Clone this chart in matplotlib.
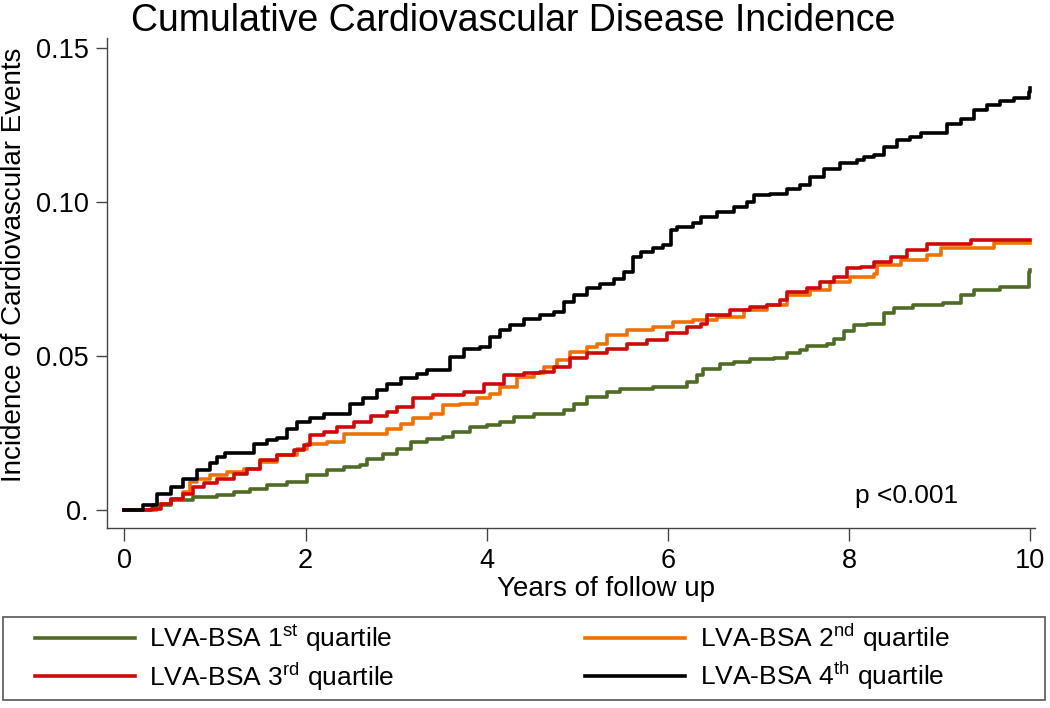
import numpy as np
import matplotlib.pyplot as plt
from matplotlib.patches import Rectangle

plt.rcParams['font.family'] = ['Liberation Sans', 'DejaVu Sans']
plt.rcParams['mathtext.fontset'] = 'custom'
plt.rcParams['mathtext.rm'] = 'Liberation Sans'

# step points (years, cumulative incidence)
q1_years = [0.0, 0.32, 0.51, 0.76, 1.02, 1.21, 1.39, 1.57, 1.80, 2.02, 2.24, 2.42, 2.60, 2.68, 2.86, 3.01,
            3.16, 3.34, 3.52, 3.63, 3.82, 4.00, 4.15, 4.30, 4.52, 4.85, 4.96, 5.11, 5.33, 5.47, 5.84, 6.21,
            6.32, 6.39, 6.57, 6.73, 6.91, 7.17, 7.31, 7.46, 7.53, 7.76, 7.83, 7.94, 8.05, 8.20, 8.38, 8.49,
            8.71, 9.04, 9.23, 9.38, 9.67, 9.98, 10.0]
q1_inc = [0.0, 0.0016, 0.0032, 0.0043, 0.0049, 0.0060, 0.0070, 0.0081, 0.0092, 0.0114, 0.0130, 0.0141,
          0.0146, 0.0168, 0.0184, 0.0200, 0.0222, 0.0230, 0.0238, 0.0254, 0.0271, 0.0276, 0.0287, 0.0303,
          0.0314, 0.0325, 0.0346, 0.0368, 0.0384, 0.0395, 0.0400, 0.0417, 0.0438, 0.0460, 0.0474, 0.0482,
          0.0490, 0.0495, 0.0509, 0.0520, 0.0532, 0.0541, 0.0557, 0.0582, 0.0600, 0.0606, 0.0639, 0.0655,
          0.0666, 0.0673, 0.0698, 0.0714, 0.0725, 0.0774, 0.0780]

q2_years = [0.0, 0.20, 0.36, 0.51, 0.65, 0.73, 0.80, 0.95, 1.13, 1.32, 1.50, 1.69, 1.91, 2.02, 2.24, 2.42,
            2.90, 3.05, 3.19, 3.38, 3.52, 3.71, 3.89, 4.04, 4.15, 4.33, 4.52, 4.63, 4.78, 4.92, 5.11, 5.22,
            5.33, 5.55, 5.84, 6.06, 6.28, 6.54, 6.84, 7.09, 7.31, 7.57, 7.79, 8.01, 8.27, 8.31, 8.57, 8.86,
            9.01, 9.60, 10.0]
q2_inc = [0.0, 0.0, 0.0022, 0.0038, 0.0060, 0.0092, 0.0103, 0.0114, 0.0124, 0.0135, 0.0157, 0.0179, 0.0200,
          0.0216, 0.0222, 0.0249, 0.0265, 0.0281, 0.0298, 0.0314, 0.0341, 0.0346, 0.0363, 0.0379, 0.0400,
          0.0433, 0.0446, 0.0465, 0.0487, 0.0514, 0.0530, 0.0541, 0.0568, 0.0584, 0.0595, 0.0611, 0.0617,
          0.0628, 0.0649, 0.0666, 0.0698, 0.0714, 0.0741, 0.0758, 0.0768, 0.0795, 0.0812, 0.0828, 0.0850,
          0.0866, 0.0866]

q3_years = [0.0, 0.16, 0.29, 0.40, 0.51, 0.65, 0.76, 0.88, 1.02, 1.21, 1.35, 1.50, 1.69, 1.87, 1.98, 2.05,
            2.20, 2.35, 2.53, 2.72, 2.90, 3.01, 3.19, 3.41, 3.75, 3.97, 4.19, 4.41, 4.59, 4.74, 4.92, 5.11,
            5.33, 5.55, 5.77, 5.99, 6.21, 6.36, 6.43, 6.69, 6.91, 7.09, 7.24, 7.31, 7.53, 7.68, 7.83, 7.98,
            8.13, 8.27, 8.46, 8.64, 8.86, 9.34, 10.0]
q3_inc = [0.0, 0.0, 0.0005, 0.0022, 0.0038, 0.0054, 0.0076, 0.0087, 0.0103, 0.0119, 0.0135, 0.0162, 0.0179,
          0.0195, 0.0211, 0.0244, 0.0254, 0.0271, 0.0287, 0.0305, 0.0319, 0.0335, 0.0363, 0.0373, 0.0384,
          0.0411, 0.0438, 0.0444, 0.0449, 0.0465, 0.0493, 0.0509, 0.0522, 0.0539, 0.0552, 0.0574, 0.0595,
          0.0606, 0.0633, 0.0649, 0.0660, 0.0666, 0.0682, 0.0709, 0.0720, 0.0741, 0.0758, 0.0785, 0.0790,
          0.0806, 0.0822, 0.0844, 0.0864, 0.0877, 0.0877]

q4_years = [0.0, 0.21, 0.36, 0.51, 0.65, 0.80, 0.95, 1.02, 1.11, 1.43, 1.57, 1.69, 1.80, 1.91, 2.05, 2.20,
            2.49, 2.64, 2.79, 2.90, 3.05, 3.23, 3.34, 3.60, 3.75, 3.93, 4.04, 4.15, 4.26, 4.41, 4.59, 4.74,
            4.85, 4.96, 5.11, 5.25, 5.40, 5.51, 5.62, 5.70, 5.84, 5.95, 6.03, 6.10, 6.28, 6.36, 6.54, 6.73,
            6.87, 6.95, 7.13, 7.31, 7.46, 7.57, 7.72, 7.90, 8.09, 8.16, 8.27, 8.38, 8.53, 8.67, 8.79, 9.08,
            9.23, 9.38, 9.52, 9.67, 9.82, 9.98, 10.0]
q4_inc = [0.0, 0.0016, 0.0054, 0.0076, 0.0103, 0.0130, 0.0152, 0.0173, 0.0186, 0.0216, 0.0227, 0.0236,
          0.0265, 0.0287, 0.0301, 0.0314, 0.0346, 0.0363, 0.0392, 0.0411, 0.0428, 0.0441, 0.0455, 0.0498,
          0.0522, 0.0530, 0.0563, 0.0584, 0.0601, 0.0622, 0.0633, 0.0644, 0.0676, 0.0698, 0.0720, 0.0736,
          0.0752, 0.0774, 0.0822, 0.0839, 0.0850, 0.0860, 0.0909, 0.0918, 0.0931, 0.0952, 0.0969, 0.0985,
          0.1001, 0.1023, 0.1028, 0.1044, 0.1055, 0.1082, 0.1109, 0.1126, 0.1136, 0.1147, 0.1153, 0.1178,
          0.1201, 0.1210, 0.1225, 0.1255, 0.1271, 0.1299, 0.1315, 0.1329, 0.1337, 0.1358, 0.1370]

labels = [r'LVA-BSA 1$^{\mathrm{st}}$ quartile', r'LVA-BSA 2$^{\mathrm{nd}}$ quartile',
          r'LVA-BSA 3$^{\mathrm{rd}}$ quartile', r'LVA-BSA 4$^{\mathrm{th}}$ quartile']
colors = ['#4F6B26', '#EE7203', '#CC0A0A', '#000000']

fig = plt.figure(figsize=(10.5, 7.08), dpi=100)
ax = fig.add_axes([0.102, 0.254, 0.884, 0.692])

series = [(q1_years, q1_inc), (q2_years, q2_inc), (q3_years, q3_inc), (q4_years, q4_inc)]
lines = []
for (xs, ys), c, lab in zip(series, colors, labels):
    ln, = ax.plot(xs, ys, drawstyle='steps-post', color=c, lw=2.6, label=lab)
    lines.append(ln)

ax.set_xlim(-0.19, 10.055)
ax.set_ylim(-0.0058, 0.1532)
ax.set_xticks([0, 2, 4, 6, 8, 10])
ax.set_yticks([0, 0.05, 0.10, 0.15])
ax.set_yticklabels(['0.', '0.05', '0.10', '0.15'])
ax.spines['top'].set_visible(False)
ax.spines['right'].set_visible(False)
for s in ['left', 'bottom']:
    ax.spines[s].set_color('#444444')
    ax.spines[s].set_linewidth(1.0)
ax.tick_params(axis='both', labelsize=19.5, color='#444444', width=1.0)
ax.tick_params(axis='x', length=9, pad=5)
ax.tick_params(axis='y', length=8, pad=5)

ax.set_xlabel('Years of follow up', fontsize=20)
ax.xaxis.set_label_coords(0.538, -0.125)
ax.xaxis.label.set_va('center')
ax.set_ylabel('Incidence of Cardiovascular Events', fontsize=20)
ax.yaxis.set_label_coords(-0.086, 0.537)
fig.text(0.489, 0.971, 'Cumulative Cardiovascular Disease Incidence', ha='center', va='center', fontsize=27)
ax.text(8.63, 0.0045, 'p <0.001', ha='center', va='center', fontsize=19)

# legend box drawn separately so the columns can sit where the reference has them
fig.patches.append(Rectangle((0.003, 0.0113), 0.992, 0.117, transform=fig.transFigure,
                             fill=False, edgecolor='#555555', lw=1.2))
order = [0, 2, 1, 3]
leg = fig.legend([lines[i] for i in order], [labels[i] for i in order], loc='center left',
                 bbox_to_anchor=(0.033, 0.072), ncol=2, fontsize=19, handlelength=3.8,
                 frameon=False, borderpad=0, borderaxespad=0, labelspacing=0.2,
                 handletextpad=0.55, columnspacing=7.2)

fig.savefig('out.png', dpi=100)
